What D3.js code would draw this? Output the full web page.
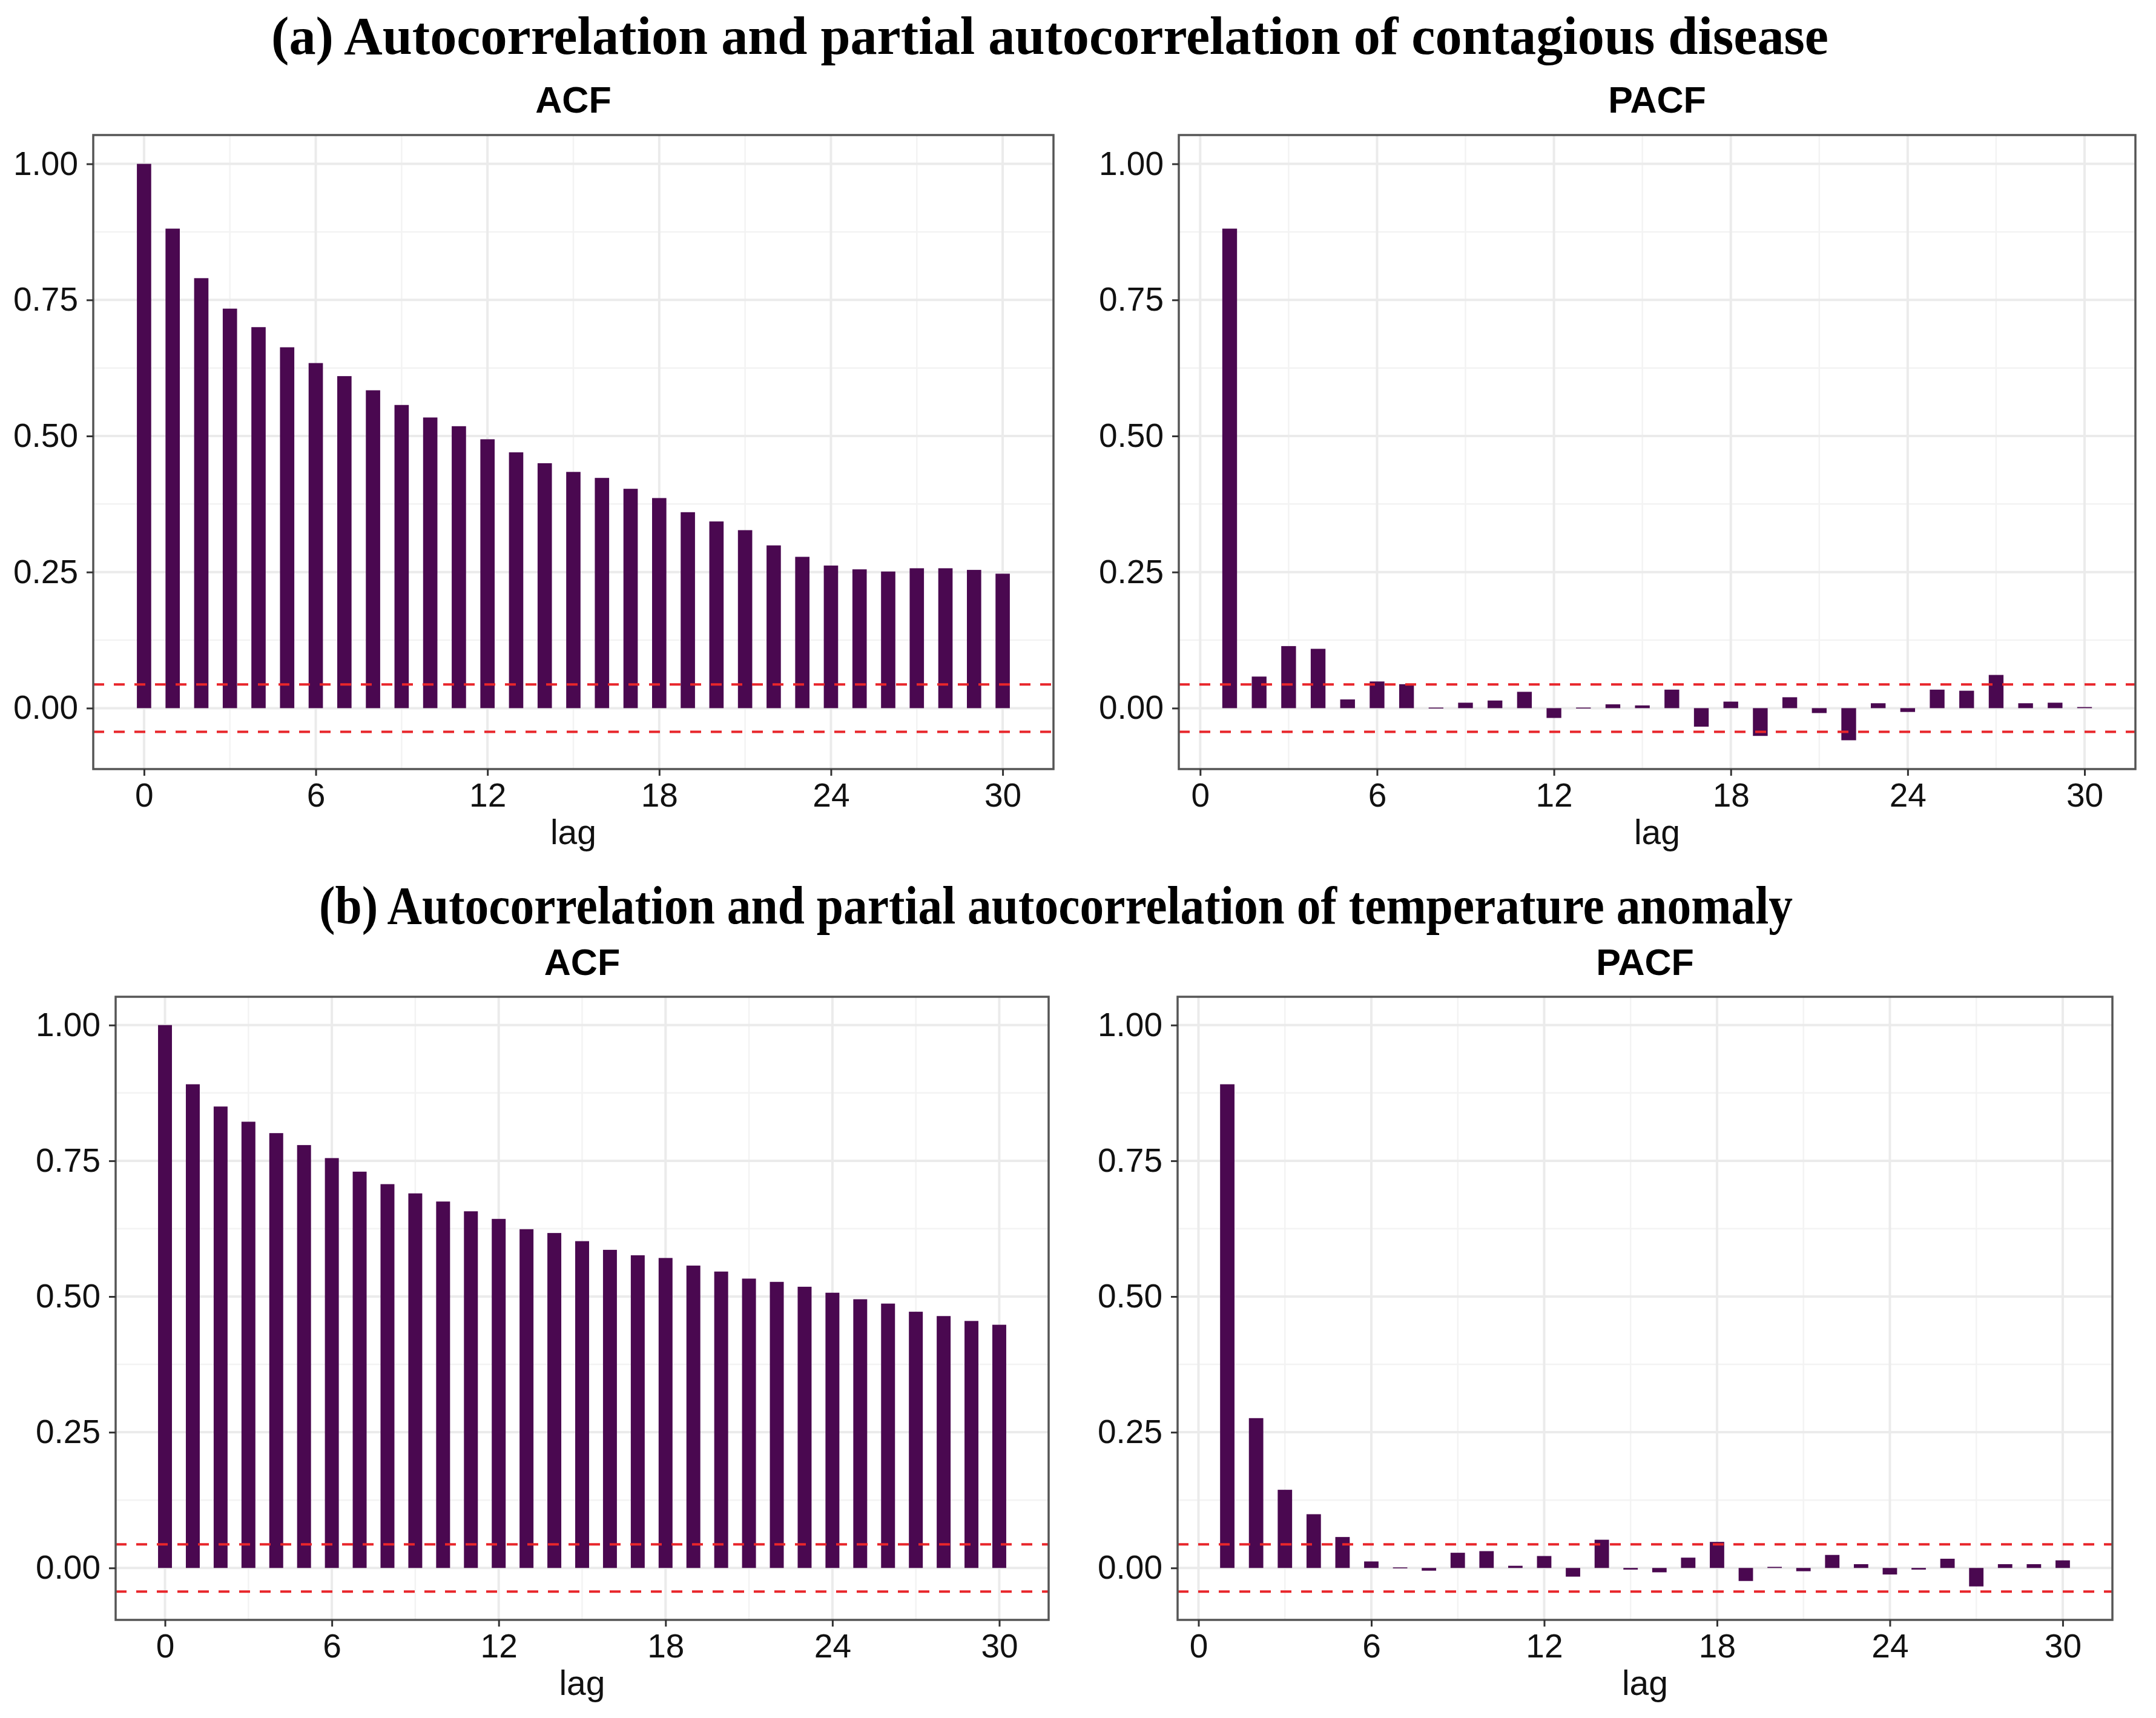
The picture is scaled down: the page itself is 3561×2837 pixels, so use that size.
<!DOCTYPE html>
<html>
<head>
<meta charset="utf-8">
<script src="https://cdn.jsdelivr.net/npm/d3@7"></script>
<style>
  body { margin: 0; background: #fff; }
  svg { display: block; }
</style>
</head>
<body>
<div id="chart"></div>
<script>
// ACF / PACF panels, ggplot theme_bw look

// data
const acfLags = [0, 1, 2, 3, 4, 5, 6, 7, 8, 9, 10, 11, 12, 13, 14, 15, 16, 17, 18, 19, 20, 21, 22, 23, 24, 25, 26, 27, 28, 29, 30]
const pacfLags = [1, 2, 3, 4, 5, 6, 7, 8, 9, 10, 11, 12, 13, 14, 15, 16, 17, 18, 19, 20, 21, 22, 23, 24, 25, 26, 27, 28, 29, 30]

// (a) contagious disease
const acfDisease = [1.000, 0.881, 0.790, 0.734, 0.700, 0.663, 0.634, 0.610, 0.584, 0.557, 0.534,
  0.518, 0.494, 0.470, 0.450, 0.434, 0.423, 0.403, 0.386, 0.360, 0.343,
  0.327, 0.299, 0.278, 0.262, 0.255, 0.251, 0.257, 0.257, 0.254, 0.247]
const pacfDisease = [0.881, 0.058, 0.114, 0.109, 0.016, 0.049, 0.044, 0.001, 0.010, 0.014,
  0.030, -0.018, 0.001, 0.007, 0.005, 0.034, -0.034, 0.012, -0.051, 0.020,
  -0.009, -0.059, 0.009, -0.007, 0.034, 0.032, 0.061, 0.009, 0.010, 0.002]

// (b) temperature anomaly
const acfTemp = [1.000, 0.891, 0.850, 0.822, 0.801, 0.779, 0.755, 0.730, 0.707, 0.690, 0.675,
  0.657, 0.643, 0.624, 0.617, 0.602, 0.586, 0.576, 0.571, 0.557, 0.546,
  0.533, 0.527, 0.518, 0.507, 0.495, 0.487, 0.472, 0.464, 0.455, 0.448]
const pacfTemp = [0.891, 0.276, 0.144, 0.099, 0.057, 0.012, 0.001, -0.005, 0.028, 0.031,
  0.004, 0.022, -0.016, 0.052, -0.003, -0.008, 0.019, 0.048, -0.024, 0.002,
  -0.006, 0.024, 0.007, -0.012, -0.003, 0.017, -0.034, 0.007, 0.007, 0.014]

const ciBound = 0.0435
const xTicks = [0, 6, 12, 18, 24, 30]
const xMinorTicks = [3, 9, 15, 21, 27]
const yTicks = [0, 0.25, 0.5, 0.75, 1]
const yMinorTicks = [0.125, 0.375, 0.625, 0.875]
const rowTitles = [
  '(a) Autocorrelation and partial autocorrelation of contagious disease',
  '(b) Autocorrelation and partial autocorrelation of temperature anomaly'
]
const panelTitles = ['ACF', 'PACF']

// layout (pixels)
const W = 3561, H = 2837
const barColor = '#4a0850'
const ciColor = '#e8262b'

const rows = [
  {title: rowTitles[0], titleX: 1734, titleY: 89, titleW: 2572, subY: 186, yLow: -0.059,
    panels: [
      {name: panelTitles[0], lags: acfLags, values: acfDisease, x0: 154, x1: 1740, y0: 223, y1: 1270},
      {name: panelTitles[1], lags: pacfLags, values: pacfDisease, x0: 1947, x1: 3527, y0: 223, y1: 1270}
    ]},
  {title: rowTitles[1], titleX: 1744, titleY: 1525, titleW: 2434, subY: 1610, yLow: -0.0435,
    panels: [
      {name: panelTitles[0], lags: acfLags, values: acfTemp, x0: 191, x1: 1732, y0: 1646, y1: 2675},
      {name: panelTitles[1], lags: pacfLags, values: pacfTemp, x0: 1945, x1: 3489, y0: 1646, y1: 2675}
    ]}
]

const svg = d3.select('#chart')
  .append('svg')
  .attr('width', W)
  .attr('height', H)

svg.append('rect').attr('width', W).attr('height', H).attr('fill', '#fff')

// ggplot style 5% expansion
function expand(lo, hi) {
  let pad = (hi - lo) * 0.05
  return [lo - pad, hi + pad]
}

rows.forEach(row => {
  svg.append('text')
    .attr('x', row.titleX)
    .attr('y', row.titleY)
    .attr('text-anchor', 'middle')
    .attr('font-family', '"Liberation Serif", "DejaVu Serif", serif')
    .attr('font-weight', 'bold')
    .attr('font-size', 89)
    .attr('textLength', row.titleW)
    .attr('lengthAdjust', 'spacingAndGlyphs')
    .attr('fill', '#000')
    .text(row.title)

  row.panels.forEach(p => drawPanel(p, row))
})

function drawPanel(p, row) {
  let lagLo = d3.min(p.lags) - 0.25
  let lagHi = d3.max(p.lags) + 0.25
  let x = d3.scaleLinear().domain(expand(lagLo, lagHi)).range([p.x0, p.x1])
  let y = d3.scaleLinear().domain(expand(row.yLow, 1)).range([p.y1, p.y0])
  let barW = x(0.25) - x(-0.25)

  let g = svg.append('g')

  // subtitle
  g.append('text')
    .attr('x', (p.x0 + p.x1) / 2)
    .attr('y', row.subY)
    .attr('text-anchor', 'middle')
    .attr('font-family', '"Liberation Sans", Arial, sans-serif')
    .attr('font-weight', 'bold')
    .attr('font-size', 61)
    .attr('fill', '#000')
    .text(p.name)

  // grid
  g.selectAll('.yminor').data(yMinorTicks).enter().append('line')
    .attr('x1', p.x0).attr('x2', p.x1)
    .attr('y1', d => y(d)).attr('y2', d => y(d))
    .attr('stroke', '#f3f3f3').attr('stroke-width', 2.5)
  g.selectAll('.xminor').data(xMinorTicks).enter().append('line')
    .attr('y1', p.y0).attr('y2', p.y1)
    .attr('x1', d => x(d)).attr('x2', d => x(d))
    .attr('stroke', '#f3f3f3').attr('stroke-width', 2.5)
  g.selectAll('.ymajor').data(yTicks).enter().append('line')
    .attr('x1', p.x0).attr('x2', p.x1)
    .attr('y1', d => y(d)).attr('y2', d => y(d))
    .attr('stroke', '#ebebeb').attr('stroke-width', 4)
  g.selectAll('.xmajor').data(xTicks).enter().append('line')
    .attr('y1', p.y0).attr('y2', p.y1)
    .attr('x1', d => x(d)).attr('x2', d => x(d))
    .attr('stroke', '#ebebeb').attr('stroke-width', 4)

  // bars
  g.selectAll('.bar').data(p.lags.map((l, i) => ({lag: l, v: p.values[i]})))
    .enter().append('rect')
    .attr('x', d => x(d.lag) - barW / 2)
    .attr('width', barW)
    .attr('y', d => y(Math.max(0, d.v)))
    .attr('height', d => Math.max(1.5, Math.abs(y(d.v) - y(0))))
    .attr('fill', barColor)

  // confidence bounds
  g.selectAll('.ci').data([ciBound, -ciBound]).enter().append('line')
    .attr('x1', p.x0).attr('x2', p.x1)
    .attr('y1', d => y(d)).attr('y2', d => y(d))
    .attr('stroke', ciColor)
    .attr('stroke-width', 4)
    .attr('stroke-dasharray', '18,16')

  // border
  g.append('rect')
    .attr('x', p.x0).attr('y', p.y0)
    .attr('width', p.x1 - p.x0).attr('height', p.y1 - p.y0)
    .attr('fill', 'none')
    .attr('stroke', '#555')
    .attr('stroke-width', 3.5)

  // axes
  let xAxis = d3.axisBottom(x).tickValues(xTicks).tickSize(11).tickPadding(12).tickFormat(d3.format('d'))
  let yAxis = d3.axisLeft(y).tickValues(yTicks).tickSize(11).tickPadding(14).tickFormat(d3.format('.2f'))

  let gx = g.append('g').attr('transform', `translate(0,${p.y1})`).call(xAxis)
  let gy = g.append('g').attr('transform', `translate(${p.x0},0)`).call(yAxis)

  ;[gx, gy].forEach(a => {
    a.select('.domain').remove()
    a.selectAll('.tick line').attr('stroke', '#333').attr('stroke-width', 3)
    a.selectAll('.tick text')
      .attr('font-family', '"Liberation Sans", Arial, sans-serif')
      .attr('font-size', 55)
      .attr('fill', '#111')
  })

  // axis title
  g.append('text')
    .attr('x', (p.x0 + p.x1) / 2)
    .attr('y', p.y1 + 124)
    .attr('text-anchor', 'middle')
    .attr('font-family', '"Liberation Sans", Arial, sans-serif')
    .attr('font-size', 57)
    .attr('fill', '#111')
    .text('lag')
}
</script>
</body>
</html>
